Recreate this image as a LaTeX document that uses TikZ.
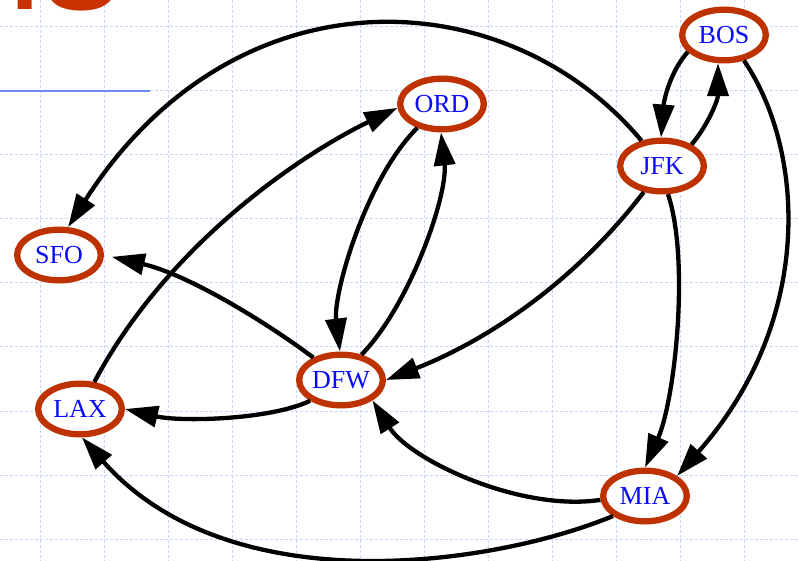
\documentclass[tikz,border=0pt]{standalone}
\usepackage{fontspec}
\setmainfont{Liberation Serif}
\newfontfamily\titlefont{Liberation Sans}
\usetikzlibrary{shapes.geometric,arrows.meta}

\definecolor{nodered}{RGB}{190,50,0}
\definecolor{titlered}{RGB}{200,50,0}
\definecolor{gridblue}{RGB}{200,212,248}
\definecolor{rulerblue}{RGB}{110,140,240}
\definecolor{labelblue}{RGB}{10,10,255}

\tikzset{
  airport/.style={ellipse, draw=nodered, line width=6.3pt, fill=white,
    minimum width=83.7pt, minimum height=50.7pt, inner sep=0pt,
    text=labelblue, font=\fontsize{26}{30}\selectfont},
  flight/.style={line width=4.3pt, -{Triangle[length=33pt,width=21pt]}},
  gridline/.style={gridblue, line width=1pt, dash pattern=on 3pt off 2pt},
}

\begin{document}
\begin{tikzpicture}[x=1pt,y=-1pt]
\useasboundingbox (0,0) rectangle (798,561);
\clip (0,0) rectangle (798,561);
\fill[white] (0,0) rectangle (798,561);

% background grid
\foreach \gx in {40,104,...,744} \draw[gridline] (\gx,0) -- (\gx,561);
\foreach \gy in {27,91,...,539} \draw[gridline] (0,\gy) -- (798,\gy);

% heading remnant and rule
\node[anchor=base west, inner sep=0pt, text=titlered,
      font=\titlefont\fontsize{158}{160}\selectfont] (title) at (-45.9,10) {ns};
\draw[rulerblue, line width=2pt] (0,91) -- (150,91);

% airports
\node[airport] (bos) at (724,35)  {BOS};
\node[airport] (jfk) at (662,166) {JFK};
\node[airport] (ord) at (442,104) {ORD};
\node[airport] (sfo) at (59,255)  {SFO};
\node[airport] (lax) at (80,409)  {LAX};
\node[airport] (dfw) at (341,380) {DFW};
\node[airport] (mia) at (645,496) {MIA};

% flights
\draw[flight] (jfk.129) .. controls (505,-22) and (234,-32) .. (sfo.72);
\draw[flight] (bos.205) .. controls (670,72) and (664,100) .. (jfk.92);
\draw[flight] (jfk.36) .. controls (708,125) and (718,100) .. (bos.258);
\draw[flight] (bos.308) .. controls (805,150) and (815,320) .. (mia.32);
\draw[flight] (jfk.282) .. controls (690,260) and (675,400) .. (mia.90);
\draw[flight] (jfk.235) .. controls (574,283) and (486,341) .. (dfw.0);
\draw[flight] (ord.224) .. controls (365,180) and (333,295) .. (dfw.92);
\draw[flight] (dfw.51) .. controls (410,305) and (448,195) .. (ord.268);
\draw[flight] (lax.62) .. controls (167,245) and (300,155) .. (ord.185);
\draw[flight, shorten >=8pt] (dfw.141) .. controls (270,325) and (190,275) .. (sfo.0);
\draw[flight] (dfw.214) .. controls (270,420) and (180,422) .. (lax.0);
\draw[flight] (mia.185) .. controls (520,512) and (410,460) .. (dfw.327);
\draw[flight] (mia.212) .. controls (495,565) and (230,605) .. (lax.274);
\end{tikzpicture}
\end{document}
